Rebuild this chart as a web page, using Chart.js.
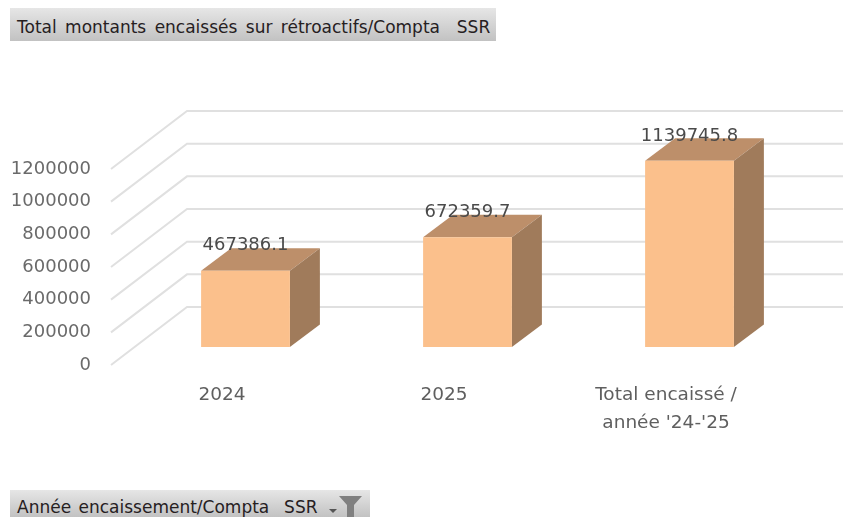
<!DOCTYPE html>
<html lang="fr">
<head>
<meta charset="utf-8">
<script src="https://cdn.jsdelivr.net/npm/chart.js@4"></script>
<style>
html,body{margin:0;padding:0;background:#fff;width:843px;height:517px;overflow:hidden}
#wrap{position:relative;width:843px;height:517px}
canvas{position:absolute;left:0;top:0}
.hdr{position:absolute;left:10px;box-sizing:border-box;background:linear-gradient(#e6e6e6,#c2c2c2);color:#26201f;
font-family:"DejaVu Sans",sans-serif;font-size:17px;white-space:nowrap;padding-left:7px}
#h1{top:8px;width:486px;height:33px;line-height:38px;word-spacing:3px}
#h2{top:490px;width:360px;height:27px;line-height:35px;word-spacing:2px}
#icon{position:absolute;left:326px;top:492px}
</style>
</head>
<body>
<div id="wrap">
<canvas id="c" width="843" height="517"></canvas>
<div class="hdr" id="h1">Total montants encaissés sur rétroactifs/Compta&nbsp; SSR</div>
<div class="hdr" id="h2">Année encaissement/Compta&nbsp; SSR</div>
<svg id="icon" width="46" height="25" viewBox="0 0 46 25"><path d="M3 17h8l-4 4z" fill="#555"/><path d="M13 4h23l-8 9v12h-7V13z" fill="#808080"/></svg>
</div>
<script>
const categories = ["2024", "2025", ["Total encaissé /", "année '24-'25"]];
const values = [467386.1, 672359.7, 1139745.8];
const valueLabels = ["467386.1", "672359.7", "1139745.8"];
const FONT = '"DejaVu Sans", sans-serif';
const wallDepth = {x: 76, y: -58};
const barOffset = {x: 23.5, y: -18};
const barDepth = {x: 30, y: -22.5};

const threeD = {
  id: 'threeD',
  beforeDraw(chart) {
    const {ctx, chartArea, scales} = chart;
    ctx.save();
    ctx.strokeStyle = '#e0e0e0';
    ctx.lineWidth = 2;
    scales.y.ticks.forEach(t => {
      const y = scales.y.getPixelForValue(t.value);
      ctx.beginPath();
      ctx.moveTo(chartArea.left, y);
      ctx.lineTo(chartArea.left + wallDepth.x, y + wallDepth.y);
      ctx.lineTo(chart.width, y + wallDepth.y);
      ctx.stroke();
    });
    ctx.restore();
  },
  beforeDatasetsDraw(chart) {
    const {ctx} = chart;
    ctx.save();
    ctx.translate(barOffset.x, barOffset.y);
    chart.getDatasetMeta(0).data.forEach(b => {
      const p = b.getProps(['x', 'y', 'base', 'width'], true);
      const l = p.x - p.width / 2, r = p.x + p.width / 2;
      ctx.fillStyle = '#bd8f6a';
      ctx.beginPath();
      ctx.moveTo(l, p.y);
      ctx.lineTo(l + barDepth.x, p.y + barDepth.y);
      ctx.lineTo(r + barDepth.x, p.y + barDepth.y);
      ctx.lineTo(r, p.y);
      ctx.closePath();
      ctx.fill();
      ctx.fillStyle = '#a07b5b';
      ctx.beginPath();
      ctx.moveTo(r, p.y);
      ctx.lineTo(r + barDepth.x, p.y + barDepth.y);
      ctx.lineTo(r + barDepth.x, p.base + barDepth.y);
      ctx.lineTo(r, p.base);
      ctx.closePath();
      ctx.fill();
    });
  },
  afterDatasetsDraw(chart) {
    const {ctx} = chart;
    ctx.fillStyle = '#4a4a4a';
    ctx.font = '18px ' + FONT;
    ctx.textAlign = 'center';
    ctx.textBaseline = 'middle';
    chart.getDatasetMeta(0).data.forEach((b, i) => {
      ctx.fillText(valueLabels[i], b.x, b.y - 25);
    });
    ctx.restore();
  }
};

new Chart(document.getElementById('c'), {
  type: 'bar',
  data: {
    labels: categories,
    datasets: [{
      data: values,
      backgroundColor: '#fbc08c',
      borderWidth: 0,
      barPercentage: 0.4,
      categoryPercentage: 1,
      clip: false
    }]
  },
  plugins: [threeD],
  options: {
    responsive: false,
    animation: false,
    layout: {padding: {left: 0, top: 169, right: 66, bottom: 0}},
    plugins: {legend: {display: false}, tooltip: {enabled: false}, title: {display: false}},
    scales: {
      x: {
        grid: {display: false},
        border: {display: false},
        afterFit(s) { s.height = 152; },
        ticks: {
          color: '#5f5f5f', padding: 8, maxRotation: 0, autoSkip: false,
          font: {family: FONT, size: 18.5, lineHeight: 1.51}
        }
      },
      y: {
        min: 0, max: 1200000,
        grid: {display: false},
        border: {display: false},
        afterFit(s) { s.width = 111; },
        ticks: {
          stepSize: 200000, color: '#6a6a6a', padding: 12,
          font: {family: FONT, size: 18},
          callback: v => String(v)
        }
      }
    }
  }
});
</script>
</body>
</html>
